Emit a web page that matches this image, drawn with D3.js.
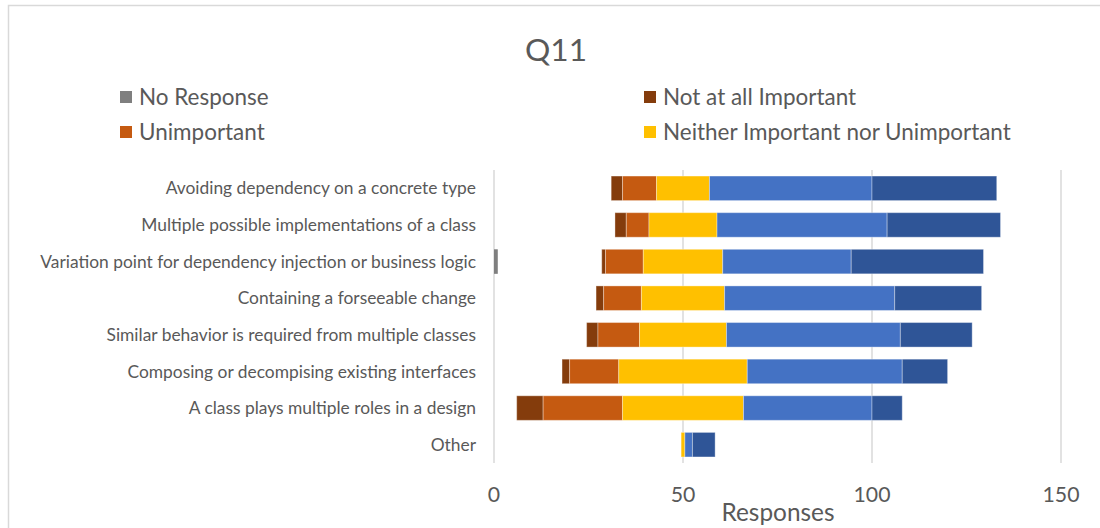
<!DOCTYPE html>
<html>
<head>
<meta charset="utf-8">
<script src="https://cdn.jsdelivr.net/npm/d3@7"></script>
<style>
  html, body { margin: 0; padding: 0; background: #fff; }
  svg { display: block; font-family: Lato, "Open Sans", sans-serif; }
</style>
</head>
<body>
<svg id="chart" width="1100" height="528"></svg>
<script>
// Survey question Q11: importance ratings per reason (number of responses)
const categories = [
  "Avoiding dependency on a concrete type",
  "Multiple possible implementations of a class",
  "Variation point for dependency injection or business logic",
  "Containing a forseeable change",
  "Similar behavior is required from multiple classes",
  "Composing or decompising existing interfaces",
  "A class plays multiple roles in a design",
  "Other"
];
const noResponse     = [0, 0, 1, 0, 0, 0, 0, 0];
const notAtAll       = [3, 3, 1, 2, 3, 2, 7, 0];
const unimportant    = [9, 6, 10, 10, 11, 13, 21, 0];
const neither        = [14, 18, 21, 22, 23, 34, 32, 1];
const important      = [43, 45, 34, 45, 46, 41, 34, 2];
const veryImportant  = [33, 30, 35, 23, 19, 12, 8, 6];
const xTicks = [0, 50, 100, 150];

// Bars are centred so that the middle of the neutral segment sits on this value
const centre = 50;

const series = [
  { name: "Not at all Important", values: notAtAll, color: "#843c0c" },
  { name: "Unimportant", values: unimportant, color: "#c55a11" },
  { name: "Neither Important nor Unimportant", values: neither, color: "#ffc000" },
  { name: "Important", values: important, color: "#4472c4" },
  { name: "Very Important", values: veryImportant, color: "#2f5597" }
];
const noResponseColor = "#7f7f7f";
const legendItems = [
  { name: "No Response", color: noResponseColor },
  { name: "Not at all Important", color: "#843c0c" },
  { name: "Unimportant", color: "#c55a11" },
  { name: "Neither Important nor Unimportant", color: "#ffc000" }
];

const textColor = "#595959";
const gridColor = "#d9d9d9";

const svg = d3.select("#chart");

// outer chart frame
svg.append("rect")
  .attr("x", 8.5).attr("y", 5.5)
  .attr("width", 1200).attr("height", 600)
  .attr("fill", "none").attr("stroke", gridColor).attr("stroke-width", 1.5);

const x = d3.scaleLinear().domain([0, 150]).range([494, 1061]);
const y = d3.scaleBand().domain(categories).range([170, 463])
  .paddingInner(0.33).paddingOuter(0.165);

// fit a text group's font size so that a reference string spans a given width
function fitText(sel, refNode, targetWidth) {
  const w = refNode.getComputedTextLength();
  const fs = parseFloat(d3.select(refNode).attr("font-size"));
  sel.attr("font-size", fs * targetWidth / w);
}

// vertical gridlines
svg.append("g").selectAll("line").data(xTicks).join("line")
  .attr("x1", d => x(d)).attr("x2", d => x(d))
  .attr("y1", 170).attr("y2", 463)
  .attr("stroke", gridColor).attr("stroke-width", 1.5);

// stacked, centred segments
const rows = categories.map((c, i) => {
  let start = centre - notAtAll[i] - unimportant[i] - neither[i] / 2;
  const segs = series.map(s => {
    const seg = { cat: c, x0: start, x1: start + s.values[i], color: s.color };
    start += s.values[i];
    return seg;
  });
  return segs.filter(s => s.x1 > s.x0);
});
const segData = rows.flat();

const barG = svg.append("g");
barG.selectAll("rect.seg").data(segData).join("rect")
  .attr("class", "seg")
  .attr("x", d => x(d.x0))
  .attr("width", d => x(d.x1) - x(d.x0))
  .attr("y", d => y(d.cat))
  .attr("height", y.bandwidth())
  .attr("fill", d => d.color)
  .attr("stroke", "rgba(255,255,255,0.35)")
  .attr("stroke-width", 1);

// "No Response" counts are drawn from zero
barG.selectAll("rect.nr").data(categories.map((c, i) => ({ cat: c, v: noResponse[i] })).filter(d => d.v > 0))
  .join("rect")
  .attr("class", "nr")
  .attr("x", x(0))
  .attr("width", d => x(d.v) - x(0))
  .attr("y", d => y(d.cat))
  .attr("height", y.bandwidth())
  .attr("fill", noResponseColor);

// category labels
const catLabels = svg.append("g").selectAll("text").data(categories).join("text")
  .attr("x", 476)
  .attr("y", d => y(d) + y.bandwidth() / 2)
  .attr("dy", "0.35em")
  .attr("text-anchor", "end")
  .attr("fill", textColor)
  .attr("font-size", 16)
  .text(d => d);
fitText(catLabels, catLabels.nodes()[2], 436);

// x tick labels
const tickLabels = svg.append("g").selectAll("text").data(xTicks).join("text")
  .attr("x", d => x(d))
  .attr("y", 502)
  .attr("text-anchor", "middle")
  .attr("fill", textColor)
  .attr("font-size", 20)
  .text(d => d);
fitText(tickLabels, tickLabels.nodes()[3], 37);

// axis title
const axisTitle = svg.append("text")
  .attr("x", 778).attr("y", 521)
  .attr("text-anchor", "middle")
  .attr("fill", textColor)
  .attr("font-size", 22)
  .text("Responses");
fitText(axisTitle, axisTitle.node(), 113);

// chart title
const title = svg.append("text")
  .attr("x", 556).attr("y", 61)
  .attr("text-anchor", "middle")
  .attr("fill", textColor)
  .attr("font-size", 30)
  .text("Q11");
fitText(title, title.node(), 62);

// legend (two columns)
const legendPos = [[120, 97], [644, 97], [120, 132], [644, 132]];
const leg = svg.append("g").selectAll("g").data(legendItems).join("g")
  .attr("transform", (d, i) => `translate(${legendPos[i][0]},${legendPos[i][1]})`);
leg.append("rect")
  .attr("x", 0).attr("y", -6).attr("width", 12).attr("height", 12)
  .attr("fill", d => d.color);
const legText = leg.append("text")
  .attr("x", 19).attr("y", 0).attr("dy", "0.35em")
  .attr("fill", textColor)
  .attr("font-size", 20)
  .text(d => d.name);
fitText(legText, legText.nodes()[3], 348);
</script>
</body>
</html>
